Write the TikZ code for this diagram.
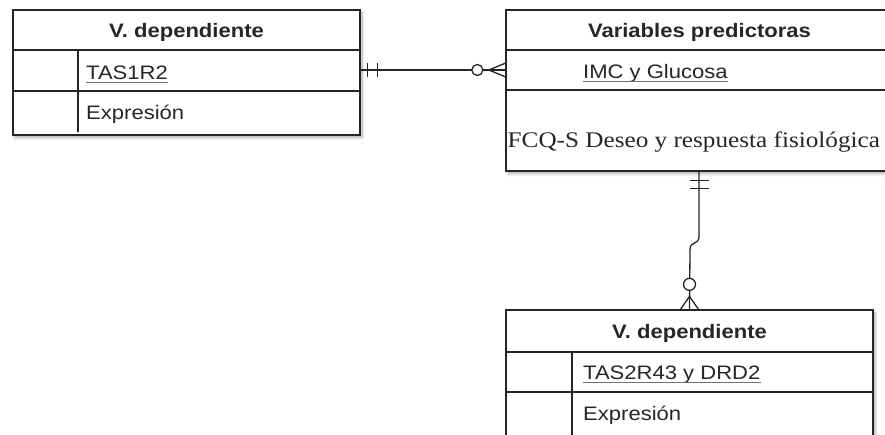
\documentclass[tikz,border=0pt]{standalone}
\usepackage{fontspec}
\setmainfont{Liberation Serif}
\newfontfamily\hs[FakeStretch=1.13]{Liberation Sans}
\newfontfamily\hserif[FakeStretch=1.13]{Liberation Serif}
\usetikzlibrary{calc,shadows.blur}
\definecolor{linec}{HTML}{252525}
\definecolor{txt}{HTML}{262626}
\definecolor{ulc}{HTML}{707070}
\begin{document}
\begin{tikzpicture}[x=1pt,y=-1pt,
  tbl/.style={draw=linec, line width=1.3pt, fill=white, inner sep=0pt,
    blur shadow={shadow xshift=2pt, shadow yshift=-2.5pt, shadow blur steps=6, shadow opacity=35, shadow blur radius=3pt}},
  sep/.style={draw=linec, line width=1.3pt},
  cellbox/.style={inner sep=0pt},
  hdr/.style={anchor=base, inner sep=0pt, text=txt, font=\hs\bfseries\fontsize{19.5}{22}\selectfont},
  fld/.style={anchor=base west, inner sep=0pt, text=txt, font=\hs\fontsize{19.5}{22}\selectfont},
  sfld/.style={anchor=base west, inner sep=0pt, text=txt, font=\hserif\fontsize{22.3}{25}\selectfont},
  ul/.style={draw=ulc, line width=0.9pt},
  conn/.style={draw=linec, line width=1.3pt},
  ring/.style={circle, draw=linec, line width=1.3pt, fill=white, inner sep=0pt, minimum size=11pt}
]
\useasboundingbox (0,0) rectangle (885,434);
\clip (0,0) rectangle (885,434);

% ---------- left table ----------
\node[tbl, minimum width=347pt, minimum height=125pt] (L) at (186.5,72.5) {};
\draw[sep] (13,50) -- (360,50);
\draw[sep] (13,91) -- (360,91);
\draw[sep] (78,50) -- (78,132);
\node[cellbox, minimum width=347pt, minimum height=40pt] (L1) at (186.5,70) {};
\node[hdr] (Lh) at (186.5,37) {V. dependiente};
\node[fld] (Lf1) at (86,79) {TAS1R2};
\draw[ul] ($(Lf1.base west)+(0,3.5)$) -- ($(Lf1.base east)+(0,3.5)$);
\node[fld] (Lf2) at (86,119.5) {Expresión};

% ---------- right table ----------
\node[tbl, minimum width=386pt, minimum height=161pt] (R) at (699,90.5) {};
\draw[sep] (506,50) -- (892,50);
\draw[sep] (506,90) -- (892,90);
\node[cellbox, minimum width=386pt, minimum height=40pt] (R1) at (699,70) {};
\node[hdr] (Rh) at (699.5,37) {Variables predictoras};
\node[fld] (Rf1) at (583,78) {IMC y Glucosa};
\draw[ul] ($(Rf1.base west)+(0,3.5)$) -- ($(Rf1.base east)+(0,3.5)$);
\node[sfld] (Rf2) at (507.5,147) {FCQ-S Deseo y respuesta fisiológica};

% ---------- bottom table ----------
\node[tbl, minimum width=367pt, minimum height=170pt] (B) at (689.5,395) {};
\draw[sep] (506,352) -- (873,352);
\draw[sep] (506,392) -- (873,392);
\draw[sep] (572,352) -- (572,480);
\node[hdr] (Bh) at (689.5,338) {V. dependiente};
\node[fld] (Bf1) at (583,379) {TAS2R43 y DRD2};
\draw[ul] ($(Bf1.base west)+(0,3.5)$) -- ($(Bf1.base east)+(0,3.5)$);
\node[fld] (Bf2) at (583,420) {Expresión};

% ---------- connector L1 -> R1 ----------
\draw[conn] (L1.east) -- (R1.west);
\draw[conn] ($(L1.east)+(7,-7)$) -- ++(0,14);
\draw[conn] ($(L1.east)+(17,-7)$) -- ++(0,14);
\draw[conn] ($(R1.west)+(-17,0)$) -- ($(R1.west)+(0,-7)$);
\draw[conn] ($(R1.west)+(-17,0)$) -- ($(R1.west)+(0,7)$);
\node[ring] (c1) at ($(R1.west)+(-28.5,0)$) {};

% ---------- connector R -> B ----------
\draw[conn] (R.south) -- (699,236) .. controls (699,246) and (690,240) .. (690,250) -- (B.north);
\draw[conn] ($(R.south)+(-9.5,8.5)$) -- ++(19,0);
\draw[conn] ($(R.south)+(-9.5,16.5)$) -- ++(19,0);
\draw[conn] ($(B.north)+(0,-13)$) -- ($(B.north)+(-9,0)$);
\draw[conn] ($(B.north)+(0,-13)$) -- ($(B.north)+(9,0)$);
\node[ring, minimum size=12pt] (c2) at ($(B.north)+(0,-25)$) {};
\end{tikzpicture}
\end{document}
